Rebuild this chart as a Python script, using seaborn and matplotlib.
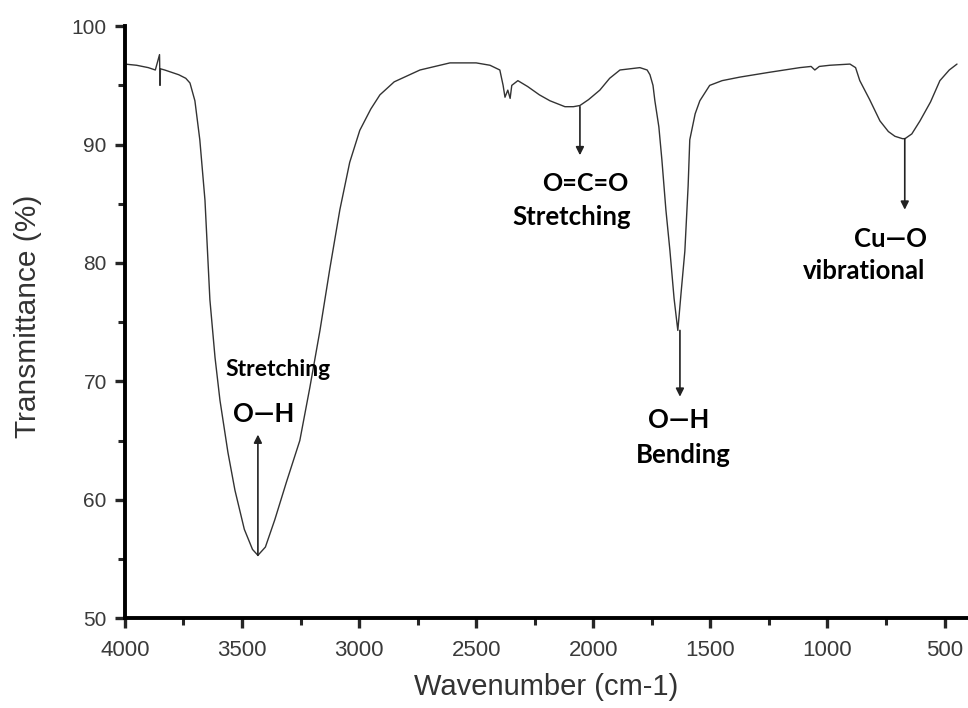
import matplotlib
matplotlib.use("Agg")
import matplotlib.pyplot as plt
import seaborn as sns
import pandas as pd
from matplotlib.ticker import MultipleLocator

# Data
wavenumber = [4000, 3950, 3900, 3870, 3852, 3850, 3848, 3830, 3800, 3770, 3740, 3722,
              3701, 3680, 3658, 3637, 3615, 3594, 3560, 3530, 3490, 3455, 3432,
              3400, 3360, 3310, 3253, 3210, 3167, 3125, 3082, 3040, 2997, 2950,
              2911, 2850, 2740, 2612, 2500, 2441, 2399, 2385, 2377, 2365, 2355,
              2348, 2322, 2280, 2230, 2185, 2121, 2085, 2057, 2020, 1972, 1930,
              1886, 1801, 1770, 1758, 1745, 1737, 1720, 1707, 1690, 1673, 1655,
              1639, 1625, 1609, 1595, 1588, 1565, 1545, 1503, 1450, 1374, 1250,
              1118, 1070, 1054, 1035, 990, 904, 880, 862, 820, 776, 740, 712, 680,
              669, 640, 605, 560, 520, 480, 447]
transmittance = [96.8, 96.7, 96.5, 96.3, 97.6, 95.0, 96.4, 96.3, 96.1, 95.9, 95.6, 95.2,
                 93.7, 90.4, 85.3, 76.9, 72.0, 68.4, 64.0, 60.8, 57.5, 55.8, 55.3,
                 56.0, 58.3, 61.5, 65.0, 69.5, 74.3, 79.5, 84.5, 88.5, 91.2, 93.0,
                 94.2, 95.3, 96.3, 96.9, 96.9, 96.7, 96.3, 95.0, 94.0, 94.6, 93.9,
                 95.0, 95.4, 94.9, 94.2, 93.7, 93.2, 93.2, 93.3, 93.8, 94.6, 95.6,
                 96.3, 96.5, 96.3, 95.9, 95.0, 93.7, 91.5, 88.7, 84.5, 81.1, 77.0,
                 74.3, 77.5, 81.0, 86.5, 90.4, 92.6, 93.7, 95.0, 95.4, 95.7, 96.1,
                 96.5, 96.6, 96.3, 96.6, 96.7, 96.8, 96.5, 95.4, 93.8, 92.0, 91.1, 90.7,
                 90.5, 90.5, 90.9, 92.0, 93.6, 95.4, 96.3, 96.8]

xticks = [4000, 3500, 3000, 2500, 2000, 1500, 1000, 500]
yticks = [50, 60, 70, 80, 90, 100]

df = pd.DataFrame({"Wavenumber": wavenumber, "T": transmittance})

sns.set_style("ticks")
plt.rcParams["font.family"] = ["Liberation Sans", "DejaVu Sans"]

fig = plt.figure(figsize=(9.68, 7.08), dpi=100)
ax = fig.add_axes([0.129, 0.127, 0.871, 0.836])

sns.lineplot(data=df, x="Wavenumber", y="T", sort=False, color="#333333",
             linewidth=1.0, ax=ax, estimator=None)

ax.set_xlim(4000, 400)
ax.set_ylim(50, 100)
ax.set_xticks(xticks)
ax.set_yticks(yticks)
ax.xaxis.set_minor_locator(MultipleLocator(250))
ax.yaxis.set_minor_locator(MultipleLocator(5))
for s in ["top", "right"]:
    ax.spines[s].set_visible(False)
for s in ["left", "bottom"]:
    ax.spines[s].set_linewidth(2.8)
    ax.spines[s].set_color("black")
ax.tick_params(axis="x", which="major", length=7, width=2.4, labelsize=16,
               labelcolor="#3a3a3a", direction="out", pad=9)
ax.tick_params(axis="y", which="major", length=7, width=2.4, labelsize=15,
               labelcolor="#3a3a3a", direction="out", pad=6)
ax.tick_params(axis="both", which="minor", length=5, width=2.2, direction="out")
ax.set_xlabel("Wavenumber (cm-1)", fontsize=21, color="#333333")
ax.set_ylabel("Transmittance (%)", fontsize=21.5, color="#333333",
              family=["Liberation Sans Narrow", "Liberation Sans", "DejaVu Sans"])
ax.xaxis.set_label_coords(0.5, -0.093)
ax.yaxis.set_label_coords(-0.098, 0.51)

afont = dict(family=["Lato", "DejaVu Sans"], fontweight="bold", color="black")
arrow = dict(arrowstyle="-|>", color="#222222", lw=1.2, mutation_scale=12, shrinkA=0, shrinkB=0)

# O-H stretching
ax.annotate("", xy=(3432, 65.5), xytext=(3432, 55.3), arrowprops=arrow)
ax.text(3347, 71.0, "Stretching", fontsize=16.5, ha="center", va="center", **afont)
ax.text(3406, 67.2, "O\u2014H", fontsize=18.5, ha="center", va="center", **afont)

# O=C=O stretching
ax.annotate("", xy=(2057, 89.1), xytext=(2057, 93.2), arrowprops=arrow)
ax.text(2036, 86.7, "O=C=O", fontsize=18, ha="center", va="center", **afont)
ax.text(2091, 83.9, "Stretching", fontsize=18.5, ha="center", va="center", **afont)

# O-H bending
ax.annotate("", xy=(1630, 68.7), xytext=(1630, 74.3), arrowprops=arrow)
ax.text(1635, 66.7, "O\u2014H", fontsize=18.5, ha="center", va="center", **afont)
ax.text(1617, 63.8, "Bending", fontsize=18.5, ha="center", va="center", **afont)

# Cu-O vibrational
ax.annotate("", xy=(670, 84.5), xytext=(670, 90.5), arrowprops=arrow)
ax.text(733, 82.0, "Cu\u2014O", fontsize=18.5, ha="center", va="center", **afont)
ax.text(845, 79.3, "vibrational", fontsize=18.5, ha="center", va="center", **afont)

fig.savefig("out.png", dpi=100)
